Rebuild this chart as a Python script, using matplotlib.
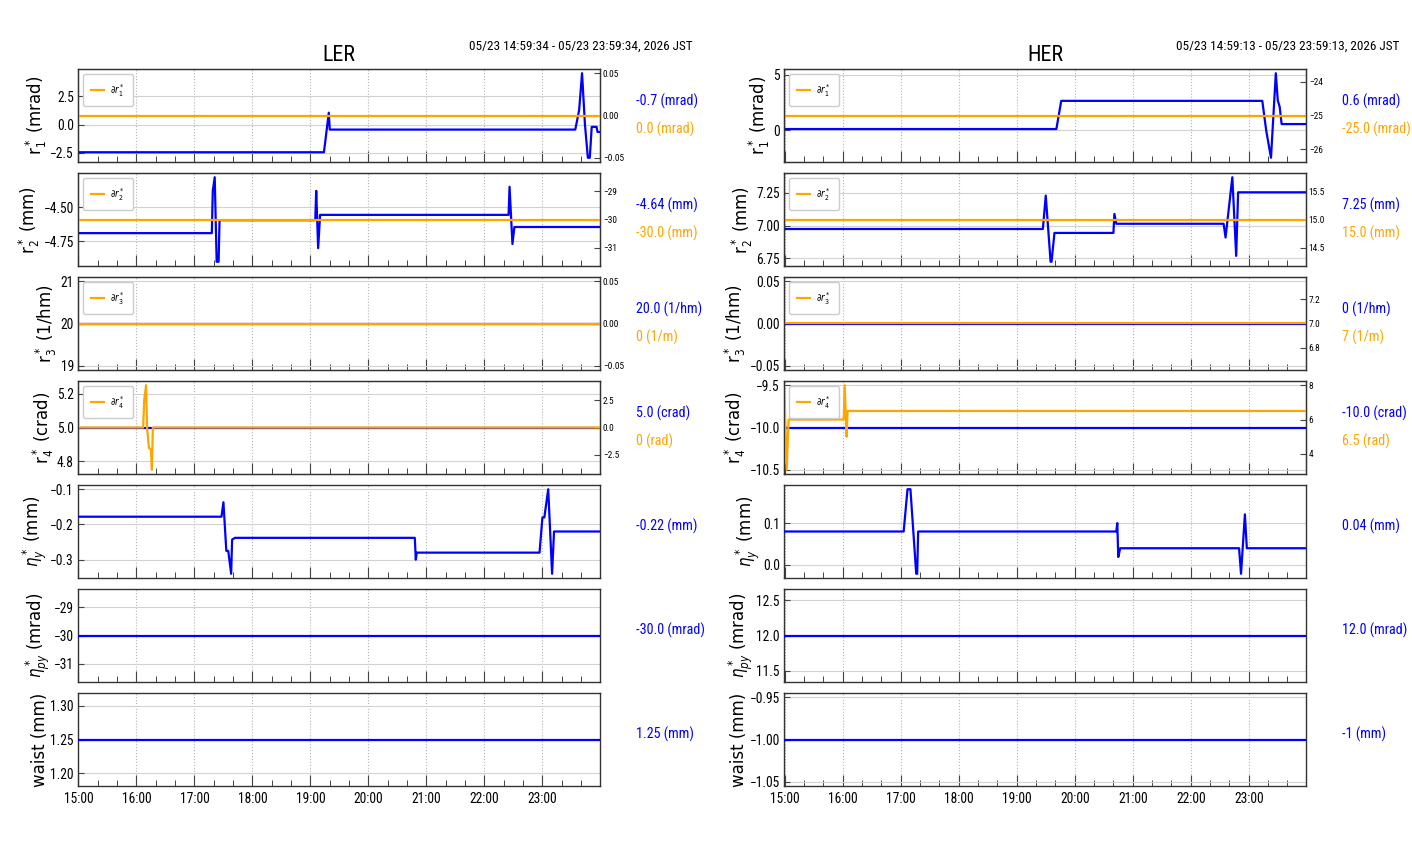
import numpy as np
import pandas as pd
import matplotlib
matplotlib.use("Agg")
import matplotlib.pyplot as plt
import matplotlib.dates as mdates
from matplotlib import font_manager as fm
from matplotlib.font_manager import FontProperties
from matplotlib.textpath import TextPath
from matplotlib.ticker import FixedLocator

DAY = "2026-05-23 "
LER_START, LER_END = "14:59:34", "23:59:34"
HER_START, HER_END = "14:59:13", "23:59:13"

# ---------------- LER data ----------------
ler_r1_t = [LER_START, "19:14", "19:19", "19:20", "23:34", "23:38", "23:41", "23:44", "23:47", "23:49", "23:51", "23:56", "23:57", LER_END]
ler_r1_v = [-2.45, -2.45, 1.06, -0.44, -0.44, 1.3, 4.56, 0.0, -2.94, -2.94, -0.2, -0.2, -0.65, -0.65]
ler_dr1_t = [LER_START, LER_END]
ler_dr1_v = [0.0, 0.0]

ler_r2_t = [LER_START, "17:18", "17:19", "17:21", "17:23", "17:25", "17:26", "19:05", "19:06", "19:08", "19:10",
            "22:25", "22:26", "22:29", "22:31", LER_END]
ler_r2_v = [-4.69, -4.69, -4.38, -4.28, -4.90, -4.90, -4.595, -4.595, -4.38, -4.80, -4.556,
            -4.556, -4.35, -4.77, -4.645, -4.645]
ler_dr2_t = [LER_START, LER_END]
ler_dr2_v = [-30.0, -30.0]

ler_r3_t = [LER_START, LER_END]
ler_r3_v = [20.0, 20.0]
ler_dr3_t = [LER_START, LER_END]
ler_dr3_v = [0.0, 0.0]

ler_r4_t = [LER_START, LER_END]
ler_r4_v = [5.0, 5.0]
ler_dr4_t = [LER_START, "16:07", "16:08", "16:10", "16:11", "16:13", "16:15", "16:16", "16:17", LER_END]
ler_dr4_v = [0.0, 0.0, 2.5, 3.9, 0.0, -1.9, -2.0, -3.9, 0.0, 0.0]

ler_ey_t = [LER_START, "17:28", "17:30", "17:33", "17:35", "17:38", "17:39", "17:42", "20:48", "20:49", "20:50",
            "22:57", "23:00", "23:02", "23:04", "23:06", "23:10", "23:12", LER_END]
ler_ey_v = [-0.178, -0.178, -0.137, -0.275, -0.275, -0.34, -0.243, -0.238, -0.238, -0.30, -0.28,
            -0.28, -0.18, -0.18, -0.14, -0.10, -0.34, -0.22, -0.22]

ler_epy_t = [LER_START, LER_END]
ler_epy_v = [-30.0, -30.0]

ler_w_t = [LER_START, LER_END]
ler_w_v = [1.25, 1.25]

# ---------------- HER data ----------------
her_r1_t = [HER_START, "19:41", "19:46", "23:14", "23:18", "23:23", "23:28", "23:30", "23:32", "23:34", HER_END]
her_r1_v = [0.1, 0.1, 2.65, 2.65, 0.0, -2.5, 5.15, 2.7, 2.1, 0.55, 0.55]
her_dr1_t = [HER_START, HER_END]
her_dr1_v = [-25.0, -25.0]

her_r2_t = [HER_START, "19:27", "19:30", "19:35", "19:36", "19:39", "20:40", "20:41", "20:43",
            "22:34", "22:36", "22:43", "22:47", "22:49", HER_END]
her_r2_v = [6.975, 6.975, 7.23, 6.725, 6.725, 6.945, 6.945, 7.09, 7.015,
            7.015, 6.91, 7.37, 6.77, 7.255, 7.255]
her_dr2_t = [HER_START, HER_END]
her_dr2_v = [15.0, 15.0]

her_r3_t = [HER_START, HER_END]
her_r3_v = [0.0, 0.0]
her_dr3_t = [HER_START, HER_END]
her_dr3_v = [7.0, 7.0]

her_r4_t = [HER_START, HER_END]
her_r4_v = [-10.0, -10.0]
her_dr4_t = [HER_START, "15:00", "15:02", "15:04", "16:01", "16:02", "16:04", "16:05", HER_END]
her_dr4_v = [8.0, 7.0, 3.07, 6.0, 6.0, 8.0, 5.0, 6.5, 6.5]

her_ey_t = [HER_START, "17:03", "17:07", "17:10", "17:16", "17:17", "17:18", "20:43", "20:44", "20:45", "20:47",
            "22:50", "22:52", "22:56", "22:58", HER_END]
her_ey_v = [0.08, 0.08, 0.181, 0.181, -0.021, -0.021, 0.08, 0.08, 0.10, 0.019, 0.04,
            0.04, -0.021, 0.121, 0.04, 0.04]

her_epy_t = [HER_START, HER_END]
her_epy_v = [12.0, 12.0]

her_w_t = [HER_START, HER_END]
her_w_v = [-1.0, -1.0]

# ---------------- ticks ----------------
ler_yticks = [[-2.5, 0.0, 2.5], [-4.75, -4.50], [19, 20, 21], [4.8, 5.0, 5.2],
              [-0.3, -0.2, -0.1], [-31, -30, -29], [1.20, 1.25, 1.30]]
ler_rticks = [[-0.05, 0.0, 0.05], [-31, -30, -29], [-0.05, 0.0, 0.05], [-2.5, 0.0, 2.5]]
her_yticks = [[0, 5], [6.75, 7.00, 7.25], [-0.05, 0.0, 0.05], [-10.5, -10.0, -9.5],
              [0.0, 0.1], [11.5, 12.0, 12.5], [-1.05, -1.00, -0.95]]
her_rticks = [[-26, -25, -24], [14.5, 15.0, 15.5], [6.8, 7.0, 7.2], [4, 6, 8]]

# ---------------- labels ----------------
ylabels = [r"r$_1^*$ (mrad)", r"r$_2^*$ (mm)", r"r$_3^*$ (1/hm)", r"r$_4^*$ (crad)",
           r"$\eta_y^*$ (mm)", r"$\eta_{py}^*$ (mrad)", "waist (mm)"]
legend_labels = [r"$\partial r_1^*$", r"$\partial r_2^*$", r"$\partial r_3^*$", r"$\partial r_4^*$"]

ler_blue_text = ["-0.7 (mrad)", "-4.64 (mm)", "20.0 (1/hm)", "5.0 (crad)", "-0.22 (mm)", "-30.0 (mrad)", "1.25 (mm)"]
ler_orange_text = ["0.0 (mrad)", "-30.0 (mm)", "0 (1/m)", "0 (rad)"]
her_blue_text = ["0.6 (mrad)", "7.25 (mm)", "0 (1/hm)", "-10.0 (crad)", "0.04 (mm)", "12.0 (mrad)", "-1 (mm)"]
her_orange_text = ["-25.0 (mrad)", "15.0 (mm)", "7 (1/m)", "6.5 (rad)"]

LER_RANGE = "05/23 14:59:34 - 05/23 23:59:34, 2026 JST"
HER_RANGE = "05/23 14:59:13 - 05/23 23:59:13, 2026 JST"

BLUE = "#0000ff"
ORANGE = "#ffa500"

# ---------------- choose the narrowest available sans font ----------------
allowed = {"DejaVu Sans", "Liberation Sans", "Liberation Sans Narrow", "Roboto", "Roboto Condensed",
           "Open Sans", "Open Sans Condensed", "Lato", "Inter", "Noto Sans"}


def width_px(s, fp, size):
    tp = TextPath((0, 0), s, size=size, prop=fp)
    return tp.get_extents().width * 100.0 / 72.0


best = None
for f in fm.fontManager.ttflist:
    if f.name not in allowed or f.style != "normal":
        continue
    if f.weight not in (400, "normal", "regular", "book"):
        continue
    try:
        fp = FontProperties(fname=f.fname)
        w = width_px(LER_RANGE, fp, 10)
    except Exception:
        continue
    if best is None or w < best[0]:
        best = (w, f)

if best is not None:
    fnt = best[1]
    plt.rcParams['font.family'] = [fnt.name, 'DejaVu Sans']
    plt.rcParams['font.stretch'] = fnt.stretch
    HFP = FontProperties(fname=fnt.fname)
else:
    plt.rcParams['font.family'] = ['DejaVu Sans']
    HFP = FontProperties(family='DejaVu Sans')
plt.rcParams['mathtext.fontset'] = 'dejavusans'


def size_for(s, target_px, lo=5.0, hi=13.0):
    w = width_px(s, HFP, 10)
    sz = 10 * target_px / w
    return max(lo, min(hi, sz))


SZ_DATE = size_for(LER_RANGE, 223)
SZ_RLAB = size_for("-0.7 (mrad)", 61)
SZ_TICK = size_for("15:00", 28)
SZ_RTICK = size_for("-0.05", 18)
SZ_TITLE = size_for("LER", 31, hi=18)
SZ_LEG = SZ_RTICK * 1.05


def to_dt(ts):
    return pd.to_datetime([DAY + (t if t.count(":") == 2 else t + ":00") for t in ts],
                          format="%Y-%m-%d %H:%M:%S")


ler_main = [(ler_r1_t, ler_r1_v), (ler_r2_t, ler_r2_v), (ler_r3_t, ler_r3_v), (ler_r4_t, ler_r4_v),
            (ler_ey_t, ler_ey_v), (ler_epy_t, ler_epy_v), (ler_w_t, ler_w_v)]
ler_d = [(ler_dr1_t, ler_dr1_v), (ler_dr2_t, ler_dr2_v), (ler_dr3_t, ler_dr3_v), (ler_dr4_t, ler_dr4_v)]
her_main = [(her_r1_t, her_r1_v), (her_r2_t, her_r2_v), (her_r3_t, her_r3_v), (her_r4_t, her_r4_v),
            (her_ey_t, her_ey_v), (her_epy_t, her_epy_v), (her_w_t, her_w_v)]
her_d = [(her_dr1_t, her_dr1_v), (her_dr2_t, her_dr2_v), (her_dr3_t, her_dr3_v), (her_dr4_t, her_dr4_v)]

W, H = 1412, 864
fig = plt.figure(figsize=(W / 100, H / 100), dpi=100)

col_x = [78, 784]
ax_w = 522
row_top0 = 69
row_step = 104
ax_h = 93


def make_column(cx, title, daterange, start, end, mains, ds, yt, rt, btxt, otxt):
    axes = []
    x0, x1 = to_dt([start])[0], to_dt([end])[0]
    for i in range(7):
        top = row_top0 + i * row_step
        ax = fig.add_axes([cx / W, 1 - (top + ax_h) / H, ax_w / W, ax_h / H])
        t, v = mains[i]
        ax.plot(to_dt(t), v, color=BLUE, lw=1.6, zorder=3)
        ax.set_xlim(x0, x1)
        ax.xaxis.set_major_locator(mdates.HourLocator())
        ax.xaxis.set_minor_locator(mdates.MinuteLocator(byminute=[20, 40]))
        ax.xaxis.set_major_formatter(mdates.DateFormatter("%H:%M"))
        ax.tick_params(axis='x', which='major', direction='in', length=8, width=0.8, color='#444444',
                       labelsize=SZ_TICK, pad=4)
        ax.tick_params(axis='x', which='minor', direction='in', length=4, width=0.7, color='#444444')
        ax.tick_params(axis='y', direction='in', length=4, labelsize=SZ_TICK, color='#444444', pad=3)
        ax.yaxis.set_major_locator(FixedLocator(yt[i]))
        ax.grid(axis='x', which='major', ls=':', color='#b5b5b5', lw=0.8)
        ax.grid(axis='y', which='major', ls='-', color='#d2d2d2', lw=0.8)
        if i < 6:
            ax.tick_params(axis='x', labelbottom=False)
        for sp in ax.spines.values():
            sp.set_color('#333333')
            sp.set_linewidth(1.0)
        ax.set_ylabel(ylabels[i], family='DejaVu Sans', stretch='normal', fontsize=12, labelpad=1)
        ax.text(1.069, 0.656 if i < 4 else 0.56, btxt[i], color=BLUE, fontsize=SZ_RLAB,
                transform=ax.transAxes, ha='left', va='center')
        if i < 4:
            tw = ax.twinx()
            dt, dv = ds[i]
            tw.plot(to_dt(dt), dv, color=ORANGE, lw=1.6, label=legend_labels[i])
            tw.set_xlim(x0, x1)
            tw.yaxis.set_major_locator(FixedLocator(rt[i]))
            tw.tick_params(axis='y', direction='in', length=4, labelsize=SZ_RTICK, color='#444444', pad=2)
            for sp in tw.spines.values():
                sp.set_color('#333333')
            tw.legend(loc='upper left', fontsize=SZ_LEG, handlelength=1.4, handletextpad=0.6,
                      borderpad=0.8, borderaxespad=0.5, framealpha=1.0, edgecolor='#cccccc')
            ax.text(1.069, 0.355, otxt[i], color=ORANGE, fontsize=SZ_RLAB,
                    transform=ax.transAxes, ha='left', va='center')
        axes.append(ax)
    axes[0].set_title(title, fontsize=SZ_TITLE, pad=6)
    axes[0].text(1.178, 1.247, daterange, transform=axes[0].transAxes, ha='right', va='center',
                 fontsize=SZ_DATE)
    return axes


make_column(col_x[0], "LER", LER_RANGE, LER_START, LER_END,
            ler_main, ler_d, ler_yticks, ler_rticks, ler_blue_text, ler_orange_text)
make_column(col_x[1], "HER", HER_RANGE, HER_START, HER_END,
            her_main, her_d, her_yticks, her_rticks, her_blue_text, her_orange_text)

fig.savefig("out.png", dpi=100)
